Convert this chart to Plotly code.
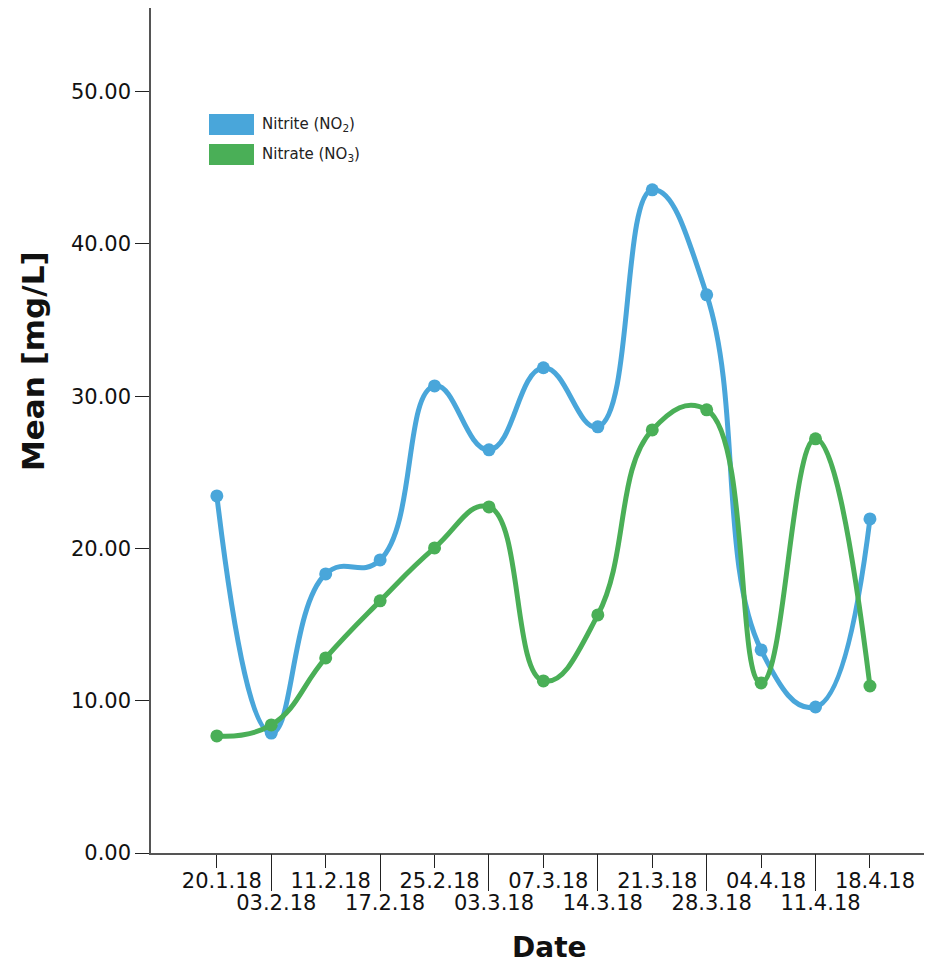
import plotly.graph_objects as go

dates = ["20.1.18", "03.2.18", "11.2.18", "17.2.18", "25.2.18", "03.3.18", "07.3.18",
         "14.3.18", "21.3.18", "28.3.18", "04.4.18", "11.4.18", "18.4.18"]
nitrite = [23.45, 7.88, 18.33, 19.25, 30.68, 26.48, 31.87, 27.99, 43.56, 36.66, 13.34, 9.59, 21.94]
nitrate = [7.69, 8.41, 12.81, 16.56, 20.04, 22.73, 11.30, 15.64, 27.79, 29.11, 11.17, 27.20, 10.97]
y_ticks = [0, 10, 20, 30, 40, 50]
series_labels = ["Nitrite (NO<sub>2</sub>)", "Nitrate (NO<sub>3</sub>)"]

BLUE = "#49a6da"
GREEN = "#4aaf57"
FONT = "DejaVu Sans"

# the page body adds an 8px offset; size the figure to the visible area
OFF = 8
W, H = 932 - OFF, 965 - OFF
L, R, T = 151 - OFF, 0, 8 - OFF
B = H - (853 - OFF)
PW, PH = W - L - R, H - T - B


def px(x):  # screen pixel -> paper x
    return (x - OFF - L) / PW


def py(y):  # screen pixel -> paper y
    return (H - B - (y - OFF)) / PH


idx = list(range(len(dates)))

fig = go.Figure()
for name, vals, col in [("Nitrite", nitrite, BLUE), ("Nitrate", nitrate, GREEN)]:
    fig.add_trace(go.Scatter(
        x=idx, y=vals, mode="lines+markers",
        line=dict(color=col, width=5, shape="spline", smoothing=1.3),
        marker=dict(color=col, size=13),
        showlegend=False, hoverinfo="skip", name=name))

# second x axis for the lower row of labels
fig.add_trace(go.Scatter(x=[None], y=[None], xaxis="x2", showlegend=False))

even = idx[0::2]
odd = idx[1::2]
xr = [-1.21, 13.14]

# legend drawn as swatches + labels
shapes = []
annotations = []
for i, (lab, col) in enumerate(zip(series_labels, [BLUE, GREEN])):
    top = 114 + i * 30
    shapes.append(dict(type="rect", xref="paper", yref="paper",
                       x0=px(209), x1=px(254), y0=py(top + 21), y1=py(top),
                       fillcolor=col, line=dict(width=0)))
    annotations.append(dict(text=lab, xref="paper", yref="paper",
                            x=px(260), y=py(top + 10.5), xanchor="left", yanchor="middle",
                            showarrow=False, font=dict(size=15, family=FONT, color="#222")))

annotations.append(dict(text="<b>Mean [mg/L]</b>", xref="paper", yref="paper",
                        x=px(33), y=py(361), textangle=-90, showarrow=False,
                        xanchor="center", yanchor="middle",
                        font=dict(size=31, family=FONT, color="#111")))
annotations.append(dict(text="<b>Date</b>", xref="paper", yref="paper",
                        x=px(549), y=py(948), showarrow=False,
                        xanchor="center", yanchor="middle",
                        font=dict(size=28, family=FONT, color="#111")))

fig.update_layout(
    width=W, height=H,
    margin=dict(l=L, r=R, t=T, b=B, pad=0, autoexpand=False),
    paper_bgcolor="white", plot_bgcolor="white",
    font=dict(family=FONT, size=21, color="#111"),
    showlegend=False,
    xaxis=dict(range=xr, tickmode="array", tickvals=even,
               ticktext=[dates[i] for i in even],
               ticks="outside", ticklen=13, tickcolor="#222", tickwidth=1,
               ticklabelstandoff=-5, ticklabelshift=5,
               showline=True, linecolor="#555", linewidth=1.5,
               showgrid=False, zeroline=False, automargin=False),
    xaxis2=dict(range=xr, overlaying="x", side="bottom", anchor="y",
                tickmode="array", tickvals=odd,
                ticktext=[dates[i] for i in odd],
                ticks="outside", ticklen=37, tickcolor="#222", tickwidth=1,
                ticklabelstandoff=-6, ticklabelshift=5,
                showline=False, showgrid=False, zeroline=False, automargin=False),
    yaxis=dict(range=[0, 55.5], tickmode="array", tickvals=y_ticks,
               ticktext=[f"{v:.2f}" for v in y_ticks],
               ticks="outside", ticklen=14, tickcolor="#222", tickwidth=1,
               showline=True, linecolor="#555", linewidth=1.5,
               showgrid=False, zeroline=False, automargin=False),
    shapes=shapes,
    annotations=annotations,
)

fig.write_html("out.html")
